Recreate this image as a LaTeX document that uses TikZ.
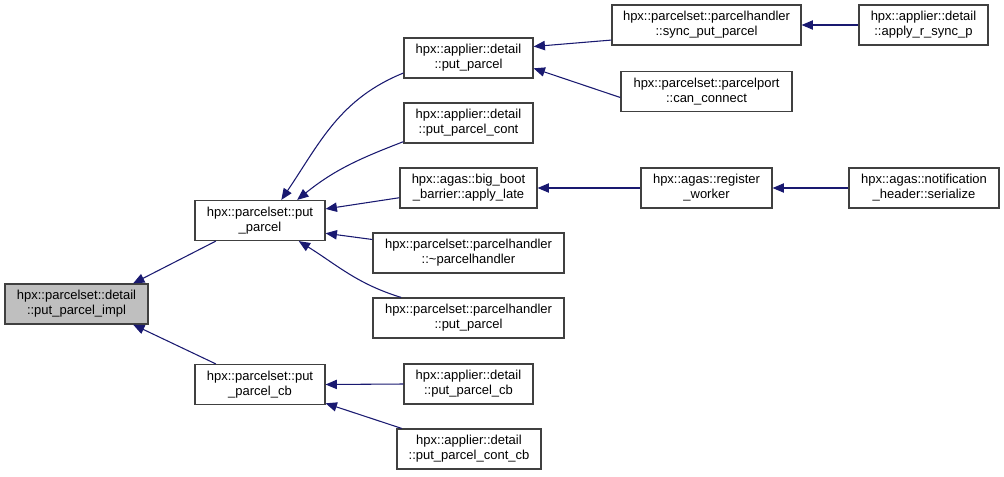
\documentclass[tikz,border=0pt]{standalone}
\usepackage{fontspec}
\setmainfont{Liberation Sans}
\usetikzlibrary{arrows.meta, positioning}
\definecolor{edgeblue}{RGB}{25,25,112}
\definecolor{boxline}{RGB}{64,64,64}
\definecolor{mainfill}{RGB}{191,191,191}

\begin{document}
\begin{tikzpicture}[
    x=0.75pt, y=-0.75pt,
    fn box/.style={
        rectangle,
        draw=boxline,      % dark grey frame
        fill=white,
        line width=0.9pt,
        inner sep=0pt,
        minimum width=#1*0.75pt,
        minimum height=30pt,
        align=center,
        font=\fontsize{9.75}{11.25}\selectfont
    },
    call/.style={
        draw=edgeblue,
        line width=0.8pt,
        {Triangle[length=8.5pt,width=7pt]}-
    }
]
    \useasboundingbox (0,0) rectangle (1004,476);

    % first column
    \node[fn box=143, fill=mainfill] (main) at (76.5, 304) {hpx::parcelset::detail\\::put\_parcel\_impl};

    % second column
    \node[fn box=130] (ps)   at (260, 220.5) {hpx::parcelset::put\\\_parcel};
    \node[fn box=130] (pscb) at (260, 384.5) {hpx::parcelset::put\\\_parcel\_cb};

    % third column
    \node[fn box=129] (app)   at (468.5, 58)  {hpx::applier::detail\\::put\_parcel};
    \node[fn box=129] (ppc)   at (468.5, 123) {hpx::applier::detail\\::put\_parcel\_cont};
    \node[fn box=137] (bb)    at (468.5, 188) {hpx::agas::big\_boot\\\_barrier::apply\_late};
    \node[fn box=191] (ph)    at (468.5, 253) {hpx::parcelset::parcelhandler\\::\textasciitilde parcelhandler};
    \node[fn box=191] (php)   at (468.5, 318) {hpx::parcelset::parcelhandler\\::put\_parcel};
    \node[fn box=129] (apcb)  at (468.5, 384) {hpx::applier::detail\\::put\_parcel\_cb};
    \node[fn box=144] (ppccb) at (469, 449)   {hpx::applier::detail\\::put\_parcel\_cont\_cb};

    % fourth column
    \node[fn box=189] (sync) at (706.5, 25)   {hpx::parcelset::parcelhandler\\::sync\_put\_parcel};
    \node[fn box=171] (cc)   at (706.5, 91.5) {hpx::parcelset::parcelport\\::can\_connect};
    \node[fn box=131] (rw)   at (706.5, 188)  {hpx::agas::register\\\_worker};

    % fifth column
    \node[fn box=129] (arsp) at (923.5, 25)  {hpx::applier::detail\\::apply\_r\_sync\_p};
    \node[fn box=150] (nh)   at (924, 188)   {hpx::agas::notification\\\_header::serialize};

    % callers point at callees
    \draw[call] (main.20)  -- (ps.205);
    \draw[call] (main.-20) -- (pscb.155);

    \draw[call] (ps.44)  to[out=56, in=202]  (app.193);
    \draw[call] (ps.29)  to[out=39, in=201]  (ppc.196);
    \draw[call] (ps.10)  -- (bb.188);
    \draw[call] (ps.-11) -- (ph.172);
    \draw[call] (ps.-28) to[out=-32, in=163] (php.163);

    \draw[call] (pscb.east) -- (apcb.west);
    \draw[call] (pscb.-16)  -- (ppccb.163);

    \draw[call] (app.10) -- (sync.189);
    \draw[call] (app.-9) -- (cc.184);
    \draw[call] (bb.east) -- (rw.west);

    \draw[call] (sync.east) -- (arsp.west);
    \draw[call] (rw.east)   -- (nh.west);
\end{tikzpicture}
\end{document}
